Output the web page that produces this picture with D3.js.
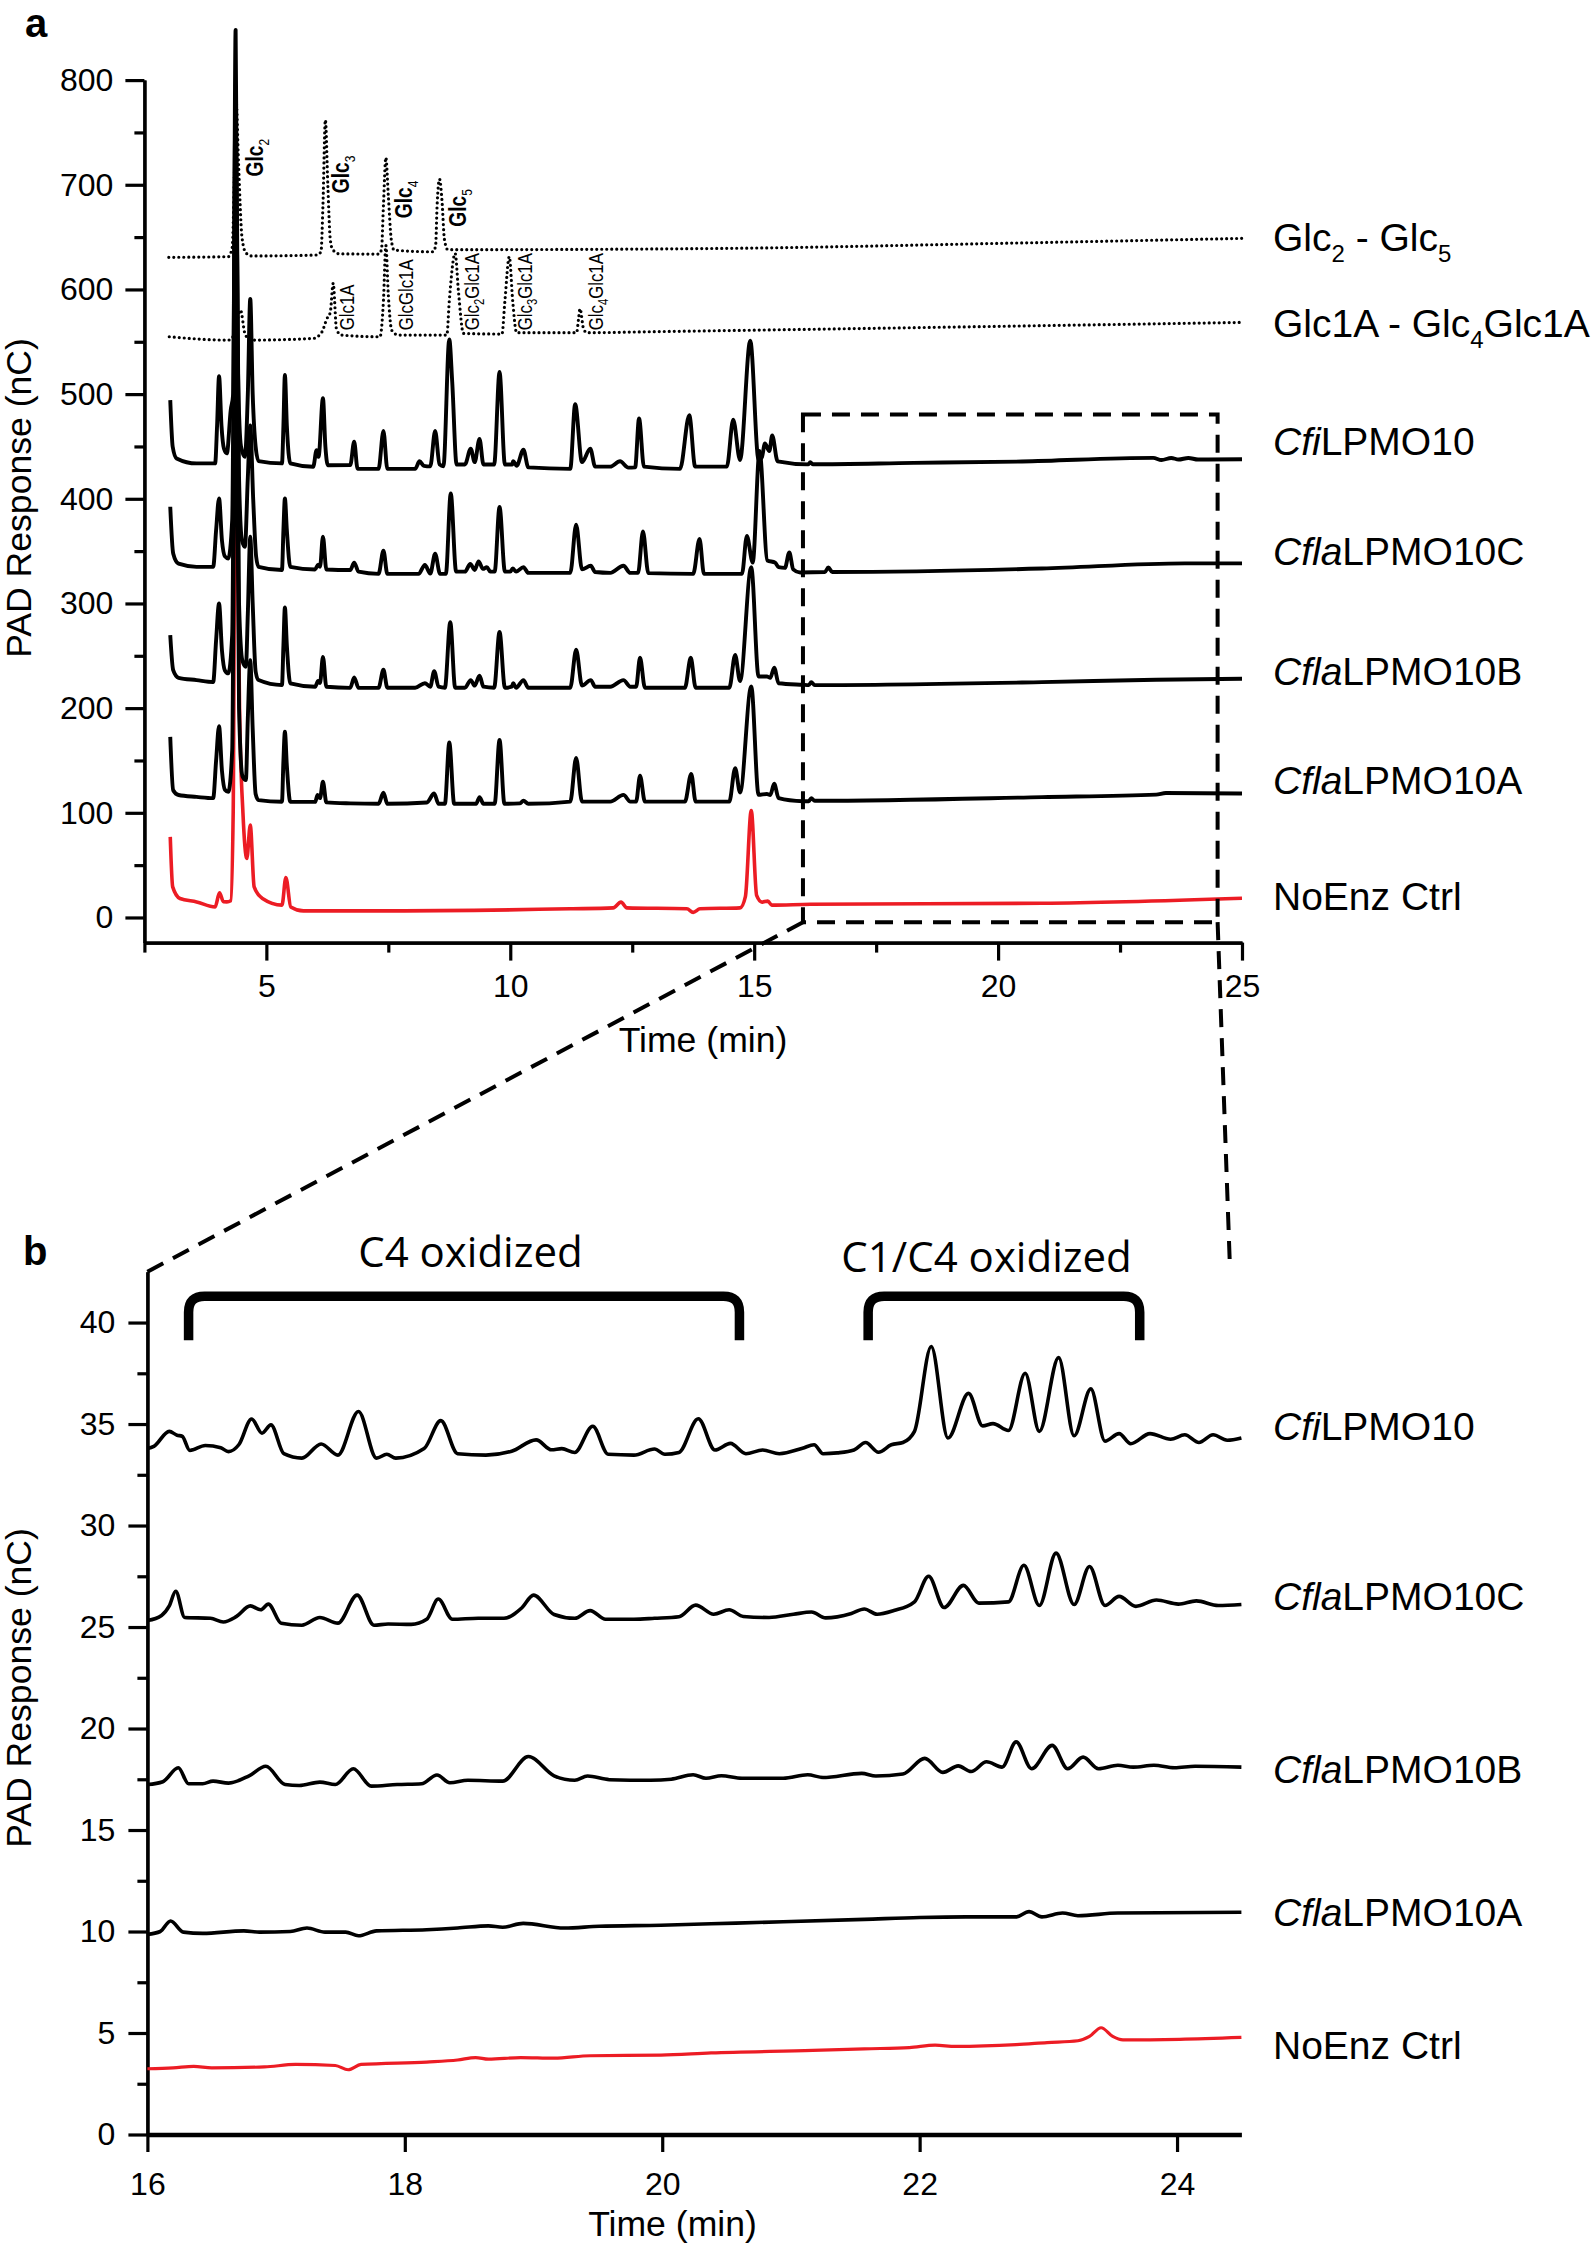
<!DOCTYPE html>
<html><head><meta charset="utf-8">
<script src="https://cdn.jsdelivr.net/npm/d3@7"></script>
<style>
body{margin:0;background:#fff;}
svg{display:block;font-family:"Liberation Sans",Arial,Helvetica,sans-serif;}
</style></head><body>
<svg id="chart" width="1594" height="2249"></svg>
<script>
// ---------------- DATA ----------------
// Panel a: tick values
const aTimeMajor = [5,10,15,20,25];
const aTimeMinor = [2.5,7.5,12.5,17.5,22.5];
const aRespMajor = [0,100,200,300,400,500,600,700,800];
const aRespMinor = [50,150,250,350,450,550,650,750];
// Panel b: tick values
const bTimeMajor = [16,18,20,22,24];
const bRespMajor = [0,5,10,15,20,25,30,35,40];
const bRespMinor = [2.5,7.5,12.5,17.5,22.5,27.5,32.5,37.5];

// Panel a chromatograms [time (min), PAD response (nC)]
const aGlcStd = [[3.0,630.7],[4.22,631.3],[4.30,640],[4.35,720],[4.38,780],[4.43,720],[4.50,650],[4.58,635],[4.70,632],[6.03,632.9],[6.12,636],[6.16,680],[6.21,762],[6.26,700],[6.31,648],[6.36,638],[6.5,634],[7.30,633.8],[7.36,638],[7.40,680],[7.45,726],[7.50,690],[7.56,648],[7.62,637.6],[8.42,636],[8.47,642],[8.50,680],[8.55,705.5],[8.60,685],[8.65,648],[8.72,638],[14.51,639.3],[20,644],[25,648.8]];
const aGlc1AStd = [[3.01,554.8],[4.22,551.6],[4.33,556],[4.47,580.3],[4.56,558],[4.67,551.6],[5.96,553.2],[6.14,559.5],[6.24,572],[6.31,578],[6.37,605.8],[6.44,561.2],[6.55,556.4],[7.33,554.8],[7.40,589],[7.45,642],[7.50,595],[7.57,561],[7.71,556.4],[8.70,556.4],[8.75,589],[8.87,634.5],[8.94,597],[9.04,558],[9.83,557.4],[9.89,589],[9.98,631.3],[10.05,589],[10.13,558.7],[11.36,558.7],[11.40,572],[11.43,581.6],[11.50,562.8],[11.57,558.7],[12.87,559.6],[25,568.5]];
const aCfi = [[3.03,494.3],[3.08,449.7],[3.16,438.6],[3.57,433.8],[3.95,433.8],[3.99,470],[4.03,517.2],[4.08,470],[4.13,448],[4.19,443.4],[4.27,484.8],[4.32,500],[4.37,848],[4.42,520],[4.48,450],[4.56,440],[4.62,500],[4.67,591],[4.72,500],[4.78,450],[4.84,436],[5.32,433.8],[5.35,470],[5.38,518.2],[5.42,470],[5.49,433.8],[5.96,430.6],[6.03,446.5],[6.07,440],[6.16,496],[6.21,450],[6.26,432],[6.72,432.2],[6.80,454.5],[6.87,428.6],[7.30,428.6],[7.40,464.8],[7.48,428.6],[8.05,428.6],[8.14,435.8],[8.23,431.5],[8.36,431],[8.46,464.8],[8.55,432.8],[8.63,431],[8.75,552.3],[8.81,511.7],[8.90,432.8],[9.07,432.8],[9.19,447.8],[9.27,435],[9.37,457.1],[9.45,432.8],[9.67,432.8],[9.78,521.1],[9.89,432.8],[10.04,432.8],[10.06,436],[10.13,431.5],[10.27,446.9],[10.37,430],[11.23,428.6],[11.33,490.4],[11.47,435],[11.64,447.8],[11.74,430.7],[12.05,430.7],[12.25,435.8],[12.42,429.8],[12.56,430],[12.64,476.8],[12.74,430.7],[13.48,428.6],[13.67,479.8],[13.79,430.7],[14.44,430.7],[14.57,475.5],[14.71,437.1],[14.92,551],[15.09,437.1],[15.16,440],[15.22,452.9],[15.31,445.6],[15.37,460.5],[15.48,435.8],[16.11,432.9],[16.15,435],[16.2,433],[18.27,434.3],[20.49,435.6],[23.18,439.1],[23.35,437],[23.55,439],[23.7,437.5],[23.9,439],[24.1,437.5],[25,437.8]];
const aCflaC = [[3.03,392.4],[3.09,347.8],[3.20,338],[3.57,335],[3.91,335],[3.97,370],[4.03,400.4],[4.09,360],[4.15,345],[4.22,343],[4.30,380],[4.37,780],[4.44,420],[4.50,360],[4.56,354.1],[4.62,420],[4.67,470],[4.73,400],[4.79,345],[4.84,335],[5.32,331.9],[5.35,370],[5.38,400.4],[5.42,370],[5.49,335],[6.0,332.5],[6.06,337],[6.10,335],[6.16,363.7],[6.23,332.5],[6.72,331.9],[6.80,339],[6.89,330.4],[7.30,328.3],[7.40,350.5],[7.48,328.3],[8.12,328.3],[8.25,336.8],[8.36,328.5],[8.46,347.5],[8.56,328.3],[8.68,328.3],[8.78,405.1],[8.89,330.4],[9.07,330.4],[9.18,337.7],[9.27,332],[9.35,340.2],[9.44,333],[9.52,334.7],[9.59,330.4],[9.68,330.4],[9.78,392.3],[9.89,330.4],[10.0,330.4],[10.05,333.4],[10.12,330.4],[10.27,334.7],[10.37,329.2],[11.23,329.2],[11.35,375.2],[11.47,332.6],[11.65,336],[11.74,330],[12.05,329.2],[12.32,336],[12.46,329.2],[12.62,329.2],[12.72,368.8],[12.83,329],[13.75,328.3],[13.88,361.6],[13.97,328.3],[14.75,328.3],[14.85,364.6],[14.97,339],[15.11,445.6],[15.27,341.1],[15.43,339],[15.5,334.7],[15.63,334],[15.72,348.8],[15.80,332.6],[15.94,329.6],[16.45,330],[16.52,334.4],[16.6,330],[20.9,333.4],[23.83,338.3],[25,338.3]];
const aCflaB = [[3.03,269.8],[3.09,236.3],[3.20,229],[3.57,226.8],[3.91,225],[3.97,265],[4.03,300],[4.09,255],[4.15,236],[4.22,233.2],[4.30,270],[4.37,700],[4.44,300],[4.51,245],[4.58,239.5],[4.62,290],[4.67,363.7],[4.72,300],[4.78,235],[4.84,226.8],[5.32,222],[5.35,260],[5.38,296.2],[5.42,260],[5.49,223.6],[6.0,220.4],[6.06,226],[6.10,224],[6.16,249],[6.23,220.4],[6.72,219.4],[6.80,229.3],[6.89,219.4],[7.30,219.5],[7.40,236.6],[7.48,219.5],[8.05,219.5],[8.25,223.8],[8.36,220.5],[8.44,235.3],[8.53,220.5],[8.66,219.5],[8.77,282.2],[8.87,219.5],[9.07,219.5],[9.19,226.8],[9.27,221.5],[9.37,231],[9.45,220.5],[9.67,219.5],[9.78,272.8],[9.89,219.5],[10.03,220.5],[10.06,223.8],[10.12,219.5],[10.27,226.8],[10.37,219.5],[11.23,219.5],[11.35,255.8],[11.47,221.6],[11.65,226.8],[11.74,220.5],[12.05,220.5],[12.32,226.8],[12.46,220.5],[12.58,220.5],[12.66,248.1],[12.76,219.5],[13.58,219.5],[13.70,248.1],[13.80,219.5],[14.49,219.5],[14.61,250.7],[14.71,225.9],[14.94,334.7],[15.09,230.2],[15.26,230.2],[15.33,229],[15.41,238.7],[15.5,223.8],[16.0,222.3],[16.12,222],[16.17,224.8],[16.24,222],[20.9,224.8],[23.24,227.1],[25,228.1]];
const aCflaA = [[3.03,172.6],[3.09,121.6],[3.20,117],[3.57,115.2],[3.91,114],[3.97,150],[4.03,182.8],[4.09,140],[4.15,122],[4.22,120],[4.30,160],[4.37,620],[4.44,200],[4.51,135],[4.58,131.2],[4.62,190],[4.67,245.9],[4.72,180],[4.78,118],[4.84,112.1],[5.32,110.6],[5.35,150],[5.38,177.4],[5.42,145],[5.49,110.6],[6.0,110.4],[6.05,117],[6.10,114],[6.16,129.6],[6.23,110],[6.72,109],[7.30,108.6],[7.40,119.3],[7.48,108.6],[8.29,109.9],[8.44,118.4],[8.53,108.6],[8.66,108.6],[8.75,167.1],[8.85,108.6],[9.30,108.6],[9.37,115],[9.45,108.6],[9.68,108.6],[9.78,169.6],[9.88,108.6],[10.20,109],[10.27,111.6],[10.37,108.6],[11.23,110.7],[11.35,152.5],[11.47,110.7],[12.05,110.7],[12.32,117.1],[12.46,110.7],[12.58,110.7],[12.66,135.4],[12.76,110.7],[13.58,110.7],[13.71,137.2],[13.80,110.7],[14.49,110.7],[14.61,142.7],[14.71,119.3],[14.94,220.8],[15.09,117.1],[15.26,118],[15.33,117],[15.41,127.8],[15.5,114.1],[16.0,111.1],[16.12,111],[16.17,114],[16.24,111.5],[20.9,115],[23.24,117.4],[23.44,118.9],[25,118.4]];
const aNoEnz = [[3.03,77],[3.08,29.2],[3.23,18.1],[3.57,14.9],[3.95,10.1],[4.04,23.5],[4.12,15],[4.19,14.9],[4.27,16],[4.32,100],[4.37,560],[4.40,400],[4.45,200],[4.52,100],[4.60,56.4],[4.67,88.2],[4.75,29.2],[4.92,18.1],[5.32,11.8],[5.40,38.2],[5.50,10.1],[5.76,6.3],[7.13,6.3],[11.23,8.3],[12.11,9.2],[12.27,14.7],[12.39,9.2],[13.62,8.3],[13.75,4.9],[13.89,8.3],[14.71,9.2],[14.82,20],[14.94,102.2],[15.05,21.1],[15.16,14.7],[15.28,15.6],[15.36,11.8],[16.15,12.6],[20.9,13.6],[25,18.4]];

// Panel b chromatograms (16–24.5 min)
const bCfi = [[16,33.79],[16.05,33.9],[16.17,34.64],[16.23,34.45],[16.27,34.4],[16.33,33.7],[16.45,33.94],[16.57,33.83],[16.63,33.64],[16.71,33.98],[16.81,35.25],[16.89,34.55],[16.96,34.96],[17.06,33.54],[17.20,33.32],[17.35,34.02],[17.48,33.47],[17.64,35.62],[17.78,33.32],[17.86,33.51],[17.93,33.32],[18.15,33.79],[18.28,35.17],[18.41,33.54],[18.63,33.47],[18.83,33.66],[19.02,34.22],[19.14,33.73],[19.22,33.79],[19.32,33.6],[19.46,34.89],[19.58,33.51],[19.78,33.47],[19.94,33.77],[20.02,33.51],[20.13,33.6],[20.28,35.26],[20.41,33.72],[20.53,34.05],[20.65,33.54],[20.78,33.72],[20.91,33.54],[21.09,33.81],[21.18,33.98],[21.25,33.54],[21.36,33.58],[21.49,33.72],[21.58,34.09],[21.68,33.61],[21.78,33.98],[21.87,34.09],[21.96,34.64],[22.09,38.82],[22.22,34.31],[22.38,36.51],[22.49,34.91],[22.57,35.02],[22.69,34.68],[22.82,37.5],[22.93,34.64],[23.08,38.27],[23.2,34.42],[23.33,36.73],[23.44,34.16],[23.55,34.53],[23.64,34.03],[23.79,34.53],[23.95,34.25],[24.06,34.47],[24.17,34.09],[24.28,34.47],[24.39,34.2],[24.5,34.31]];
const bCflaC = [[16,25.32],[16.11,25.57],[16.17,26.04],[16.22,26.76],[16.29,25.47],[16.49,25.43],[16.59,25.25],[16.69,25.51],[16.80,26.04],[16.88,25.85],[16.94,26.13],[17.04,25.19],[17.20,25.09],[17.34,25.47],[17.48,25.19],[17.63,26.57],[17.76,25.09],[17.87,25.15],[18.05,25.13],[18.17,25.38],[18.26,26.38],[18.37,25.38],[18.57,25.43],[18.77,25.43],[18.91,25.95],[19.00,26.57],[19.16,25.62],[19.32,25.43],[19.44,25.81],[19.56,25.38],[19.78,25.38],[19.94,25.43],[20.13,25.51],[20.26,26.08],[20.40,25.63],[20.52,25.85],[20.63,25.52],[20.83,25.47],[21.02,25.63],[21.16,25.74],[21.27,25.45],[21.47,25.67],[21.57,25.89],[21.67,25.63],[21.80,25.81],[21.96,26.24],[22.07,27.5],[22.19,25.96],[22.34,27.05],[22.46,26.18],[22.69,26.24],[22.81,28.04],[22.93,26.06],[23.06,28.64],[23.20,26.11],[23.32,27.98],[23.44,26.06],[23.55,26.51],[23.68,26.02],[23.84,26.33],[24.01,26.13],[24.15,26.29],[24.32,26.06],[24.5,26.11]];
const bCflaB = [[16,17.24],[16.12,17.38],[16.24,18.07],[16.32,17.28],[16.43,17.28],[16.51,17.41],[16.63,17.31],[16.79,17.67],[16.92,18.14],[17.07,17.24],[17.18,17.19],[17.34,17.36],[17.46,17.24],[17.60,18.02],[17.74,17.16],[17.94,17.24],[18.13,17.28],[18.25,17.71],[18.35,17.33],[18.49,17.45],[18.76,17.41],[18.96,18.62],[19.16,17.67],[19.32,17.45],[19.42,17.66],[19.59,17.48],[19.91,17.45],[20.07,17.5],[20.24,17.72],[20.34,17.55],[20.46,17.67],[20.62,17.55],[20.94,17.55],[21.13,17.72],[21.25,17.59],[21.55,17.79],[21.66,17.66],[21.87,17.76],[22.04,18.53],[22.18,17.84],[22.30,18.16],[22.40,17.88],[22.52,18.36],[22.64,18.1],[22.75,19.34],[22.87,18.02],[23.03,19.17],[23.15,18.02],[23.27,18.59],[23.39,18.02],[23.54,18.19],[23.66,18.1],[23.82,18.19],[23.98,18.07],[24.14,18.14],[24.5,18.1]];
const bCflaA = [[16,9.86],[16.10,10.0],[16.18,10.52],[16.28,9.97],[16.43,9.91],[16.75,10.03],[16.87,9.97],[17.11,10.0],[17.24,10.17],[17.38,9.97],[17.54,9.97],[17.64,9.79],[17.78,10.03],[18.17,10.09],[18.41,10.17],[18.65,10.28],[18.76,10.21],[18.92,10.4],[19.24,10.17],[19.51,10.26],[19.99,10.31],[20.38,10.38],[20.94,10.48],[21.57,10.6],[22.0,10.69],[22.36,10.72],[22.75,10.72],[22.85,10.98],[22.95,10.72],[23.11,10.91],[23.23,10.78],[23.54,10.91],[24.5,10.95]];
const bNoEnz = [[16,3.24],[16.2,3.28],[16.36,3.36],[16.5,3.28],[16.91,3.33],[17.15,3.45],[17.46,3.40],[17.56,3.19],[17.66,3.45],[18.17,3.57],[18.41,3.67],[18.55,3.79],[18.65,3.71],[18.90,3.79],[19.16,3.76],[19.44,3.88],[19.99,3.91],[20.38,4.02],[21.17,4.14],[21.57,4.22],[21.92,4.28],[22.12,4.40],[22.28,4.34],[22.75,4.43],[22.99,4.53],[23.23,4.62],[23.32,4.83],[23.41,5.26],[23.50,4.83],[23.58,4.66],[24.02,4.69],[24.5,4.78]];

// Series labels
const sampleItalic = ["Cfi","Cfla","Cfla","Cfla",""];
const sampleRest = ["LPMO10","LPMO10C","LPMO10B","LPMO10A","NoEnz Ctrl"];

// Standard peak labels (panel a)
const glcPeakNames = [["Glc","2"],["Glc","3"],["Glc","4"],["Glc","5"]];
const glcPeakT = [4.93,6.70,7.98,9.09];
const glcPeakV = [708,692,668,660];
const oxPeakNames = [["Glc1A","",""],["GlcGlc1A","",""],["Glc","2","Glc1A"],["Glc","3","Glc1A"],["Glc","4","Glc1A"]];
const oxPeakT = [6.80,8.00,9.35,10.44,11.90];
const oxPeakV = [561,561,561,561,561];

// Brackets (panel b)
const bracketLabels = ["C4 oxidized","C1/C4 oxidized"];
const bracketStart = [16.32,21.60];
const bracketEnd = [20.60,23.71];

// ---------------- DRAWING ----------------
const svg = d3.select("#chart");
const RED = "#ec1c24";

const xA = d3.scaleLinear().domain([2.5,25]).range([144.4,1242]);
const yA = d3.scaleLinear().domain([-24,800]).range([942.6,80.1]);
const xB = d3.scaleLinear().domain([16,24.5]).range([147.4,1241.4]);
const yB = d3.scaleLinear().domain([0,42.5]).range([2134.5,1271.8]);

function styleAxis(g, w){
  g.attr("font-size",32).attr("font-family","'Liberation Sans',Arial,sans-serif");
  g.selectAll("path,line").attr("stroke","#000").attr("stroke-width",w);
  g.selectAll("text").attr("fill","#000");
}

// ----- panel a -----
const gA = svg.append("g");
const lineA = d3.line().x(d=>xA(d[0])).y(d=>yA(d[1])).curve(d3.curveMonotoneX);

let ax = gA.append("g").attr("transform",`translate(0,${yA(-24)})`)
  .call(d3.axisBottom(xA).tickValues(aTimeMinor).tickSize(10).tickSizeOuter(0).tickFormat(""));
styleAxis(ax,3.2);
ax = gA.append("g").attr("transform",`translate(0,${yA(-24)})`)
  .call(d3.axisBottom(xA).tickValues(aTimeMajor).tickSize(18).tickSizeOuter(0).tickPadding(14));
styleAxis(ax,3.2);
ax = gA.append("g").attr("transform",`translate(${xA(2.5)},0)`)
  .call(d3.axisLeft(yA).tickValues(aRespMinor).tickSize(10).tickSizeOuter(0).tickFormat(""));
styleAxis(ax,3.2);
ax = gA.append("g").attr("transform",`translate(${xA(2.5)},0)`)
  .call(d3.axisLeft(yA).tickValues(aRespMajor).tickSize(19).tickSizeOuter(0).tickPadding(12));
styleAxis(ax,3.2);

// red control drawn first so the black spikes cover it
gA.append("path").datum(aNoEnz).attr("d",lineA).attr("fill","none")
  .attr("stroke",RED).attr("stroke-width",3.6).attr("stroke-linejoin","round");
[aCflaA,aCflaB,aCflaC,aCfi].forEach(s=>{
  gA.append("path").datum(s).attr("d",lineA).attr("fill","none")
    .attr("stroke","#000").attr("stroke-width",3.9).attr("stroke-linejoin","round");
});
[aGlcStd,aGlc1AStd].forEach(s=>{
  gA.append("path").datum(s).attr("d",lineA).attr("fill","none")
    .attr("stroke","#000").attr("stroke-width",3.2).attr("stroke-dasharray","0,5")
    .attr("stroke-linecap","round");
});

// peak labels (rotated)
glcPeakNames.forEach((n,i)=>{
  const t = gA.append("text")
    .attr("transform",`translate(${xA(glcPeakT[i])},${yA(glcPeakV[i])}) rotate(-90) scale(0.8,1)`)
    .attr("font-size",24).attr("font-weight","bold");
  t.append("tspan").text(n[0]);
  t.append("tspan").attr("font-size",15).attr("dy",6).attr("font-weight","normal").text(n[1]);
});
oxPeakNames.forEach((n,i)=>{
  const t = gA.append("text")
    .attr("transform",`translate(${xA(oxPeakT[i])},${yA(oxPeakV[i])}) rotate(-90) scale(0.8,1)`)
    .attr("font-size",21);
  t.append("tspan").text(n[0]);
  if(n[1]){
    t.append("tspan").attr("font-size",14).attr("dy",5).text(n[1]);
    t.append("tspan").attr("dy",-5).text(n[2]);
  }
});

// series labels a
function stdLabel(g,x,y,parts){
  const t = g.append("text").attr("x",x).attr("y",y).attr("font-size",39);
  parts.forEach(p=>{
    const s = t.append("tspan").text(p[0]);
    if(p[1]==="sub") s.attr("font-size",24).attr("dy",11);
    if(p[1]==="up") s.attr("dy",-11);
  });
}
stdLabel(gA,1273,251,[["Glc"],["2","sub"],[" - Glc","up"],["5","sub"]]);
stdLabel(gA,1273,336.7,[["Glc1A - Glc"],["4","sub"],["Glc1A","up"]]);
const aLabelY = [455,564.8,684.7,794.4,910.2];
sampleRest.forEach((r,i)=>{
  const t = gA.append("text").attr("x",1273).attr("y",aLabelY[i]).attr("font-size",39);
  if(sampleItalic[i]) t.append("tspan").attr("font-style","italic").text(sampleItalic[i]);
  t.append("tspan").text(r);
});

gA.append("text").attr("x",703).attr("y",1052)
  .attr("text-anchor","middle").attr("font-size",35.6).text("Time (min)");
gA.append("text").attr("transform","translate(31,498) rotate(-90)")
  .attr("text-anchor","middle").attr("font-size",35.6).text("PAD Response (nC)");
gA.append("text").attr("x",25).attr("y",36.7).attr("font-size",40).attr("font-weight","bold").text("a");

// zoom box + connectors
function applyDash(sel){
  return sel.attr("stroke","#000").attr("stroke-width",4).attr("stroke-dasharray","18,11").attr("fill","none");
}
applyDash(gA.append("rect").attr("x",xA(16)).attr("y",yA(480.6))
  .attr("width",xA(24.5)-xA(16)).attr("height",yA(-4.5)-yA(480.6)));
applyDash(svg.append("line").attr("x1",xA(16)).attr("y1",yA(-4.5)).attr("x2",xB(16)).attr("y2",yB(42.5)));
applyDash(svg.append("line").attr("x1",xA(24.5)).attr("y1",yA(-4.5)).attr("x2",xB(24.41)).attr("y2",yB(42.9)));

// ----- panel b -----
const gB = svg.append("g");
const lineB = d3.line().x(d=>xB(d[0])).y(d=>yB(d[1])).curve(d3.curveMonotoneX);

ax = gB.append("g").attr("transform",`translate(${xB(16)},0)`)
  .call(d3.axisLeft(yB).tickValues(bRespMinor).tickSize(10).tickSizeOuter(0).tickFormat(""));
styleAxis(ax,3.2);
ax = gB.append("g").attr("transform",`translate(${xB(16)},0)`)
  .call(d3.axisLeft(yB).tickValues(bRespMajor).tickSize(19).tickSizeOuter(0).tickPadding(13));
styleAxis(ax,3.2);
ax = gB.append("g").attr("transform",`translate(0,${yB(0)})`)
  .call(d3.axisBottom(xB).tickValues(bTimeMajor).tickSize(17.5).tickSizeOuter(0).tickPadding(20));
styleAxis(ax,3.2);
ax.select(".domain").attr("stroke-width",4.5);

[bCfi,bCflaC,bCflaB,bCflaA].forEach(s=>{
  gB.append("path").datum(s).attr("d",lineB).attr("fill","none")
    .attr("stroke","#000").attr("stroke-width",3.6).attr("stroke-linejoin","round");
});
gB.append("path").datum(bNoEnz).attr("d",lineB).attr("fill","none")
  .attr("stroke",RED).attr("stroke-width",3.2).attr("stroke-linejoin","round");

const bLabelY = [1440.2,1609.8,1783,1925.8,2058.9];
sampleRest.forEach((r,i)=>{
  const t = gB.append("text").attr("x",1273).attr("y",bLabelY[i]).attr("font-size",39);
  if(sampleItalic[i]) t.append("tspan").attr("font-style","italic").text(sampleItalic[i]);
  t.append("tspan").text(r);
});

// brackets
const bracketTop = yB(41.3), bracketBottom = yB(39.13), r = 16;
bracketLabels.forEach((lab,i)=>{
  const x1 = xB(bracketStart[i]), x2 = xB(bracketEnd[i]);
  const p = d3.path();
  p.moveTo(x1,bracketBottom); p.lineTo(x1,bracketTop+r);
  p.quadraticCurveTo(x1,bracketTop,x1+r,bracketTop);
  p.lineTo(x2-r,bracketTop);
  p.quadraticCurveTo(x2,bracketTop,x2,bracketTop+r);
  p.lineTo(x2,bracketBottom);
  gB.append("path").attr("d",p.toString()).attr("fill","none").attr("stroke","#000").attr("stroke-width",9.5);
});
const bracketTextX = [18.51,22.52];
const bracketTextY = [1266.7,1272];
bracketLabels.forEach((lab,i)=>{
  gB.append("text").attr("x",xB(bracketTextX[i])).attr("y",bracketTextY[i])
    .attr("text-anchor","middle").attr("font-size",42)
    .attr("font-family","'Open Sans','Noto Sans',sans-serif").text(lab);
});

gB.append("text").attr("x",672.5).attr("y",2235.7)
  .attr("text-anchor","middle").attr("font-size",35.6).text("Time (min)");
gB.append("text").attr("transform","translate(31,1688) rotate(-90)")
  .attr("text-anchor","middle").attr("font-size",35.6).text("PAD Response (nC)");
gB.append("text").attr("x",23).attr("y",1264.8).attr("font-size",40).attr("font-weight","bold").text("b");
</script></body></html>
